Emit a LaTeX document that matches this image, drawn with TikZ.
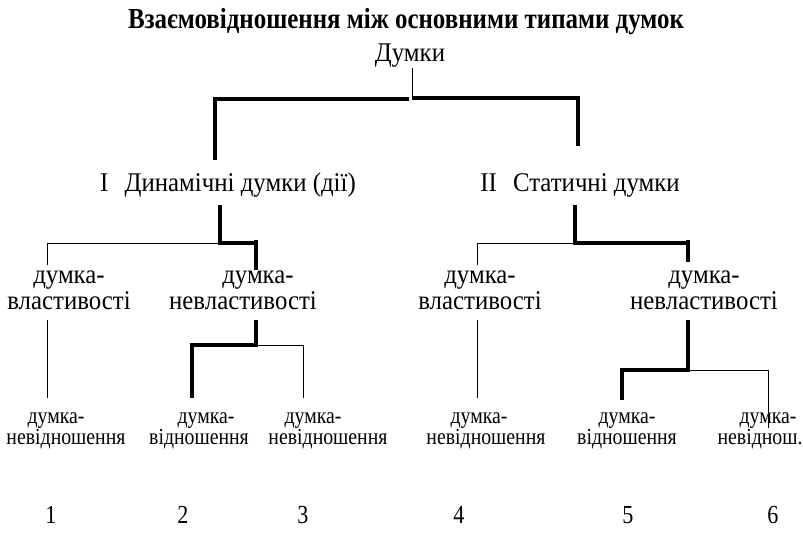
\documentclass[tikz,border=0pt]{standalone}
\usepackage{fontspec}
\setmainfont{Liberation Serif}
\newfontfamily\ttlfont[FakeStretch=0.86]{Liberation Serif}
\newfontfamily\lvlfont[FakeStretch=0.92]{Liberation Serif}
\newfontfamily\leaffont[FakeStretch=0.86]{Liberation Serif}
\newfontfamily\numfont[FakeStretch=0.85]{Liberation Serif}
\begin{document}
\begin{tikzpicture}[x=1pt,y=-1pt,
  thk/.style={line width=4pt, line join=miter},
  thn/.style={line width=1pt},
  ttl/.style={inner sep=0pt, font=\ttlfont\fontsize{29}{30}\selectfont\bfseries},
  lvl/.style={inner sep=0pt, font=\lvlfont\fontsize{27}{26}\selectfont, align=center},
  leaf/.style={inner sep=0pt, font=\leaffont\fontsize{23}{20}\selectfont, align=center},
  num/.style={inner sep=0pt, font=\numfont\fontsize{26}{26}\selectfont}]
\useasboundingbox (0,0) rectangle (803,552);
% texts
\node[ttl] (title) at (406,22) {Взаємовідношення між основними типами думок};
\node[lvl] (root) at (410,56) {Думки};
\node[lvl] (dyn) at (228,185) {I\hspace{0.6em}Динамічні думки (дії)};
\node[lvl] (stat) at (580,185) {II\hspace{0.6em}Статичні думки};
\node[lvl] (a1) at (69,290) {думка-\\властивості};
\node[lvl] (a2) at (243,290) {\hspace*{30pt}думка-\\невластивості};
\node[lvl] (b1) at (480,290) {думка-\\властивості};
\node[lvl] (b2) at (704,290) {думка-\\невластивості};
\node[leaf] (l1) at (66,431) {думка-\hspace*{20pt}\\невідношення};
\node[leaf] (l2) at (199,431) {\hspace*{14pt}думка-\\відношення};
\node[leaf] (l3) at (328,431) {думка-\hspace*{30pt}\\невідношення};
\node[leaf] (l4) at (486,431) {думка-\hspace*{14pt}\\невідношення};
\node[leaf] (l5) at (627,431) {думка-\\відношення};
\node[leaf] (l6) at (760,431) {\hspace*{16pt}думка-\\невіднош.};
\node[num] (n1) at (51,515) {1};
\node[num] (n2) at (183,515) {2};
\node[num] (n3) at (303,515) {3};
\node[num] (n4) at (459,515) {4};
\node[num] (n5) at (628,515) {5};
\node[num] (n6) at (773,515) {6};
% junction coordinates
\coordinate (r0) at (412,68);
\coordinate (r1) at (412,97.5);
\coordinate (rl) at (409,99);
\coordinate (rL) at (215,99);
\coordinate (rLd) at (215,160);
\coordinate (rR) at (578,97.5);
\coordinate (rRd) at (578,146);
% top
\draw[thn] (r0) -- (r1);
\draw[thk] (rl) -- (rL) -- (rLd);
\draw[thk] (r1) -- (rR) -- (rRd);
% dynamic subtree
\coordinate (d0) at (220,205);
\coordinate (d1) at (220,243);
\coordinate (dL) at (47,243);
\coordinate (dLd) at (47,265);
\coordinate (dR) at (256,243);
\coordinate (dRu) at (256,240);
\coordinate (dRd) at (256,270);
\draw[thn] (d1) -- (dL) -- (dLd);
\draw[thk] (d0) -- (d1) -- (dR);
\draw[thk] (dRu) -- (dRd);
% under a1, a2
\coordinate (e0) at (47,320);
\coordinate (e1) at (47,398);
\draw[thn] (e0) -- (e1);
\coordinate (f0) at (256,320);
\coordinate (f1) at (256,345);
\coordinate (fL) at (192,345);
\coordinate (fLd) at (192,398);
\coordinate (fR) at (303,345);
\coordinate (fRd) at (303,398);
\draw[thn] (f1) -- (fR) -- (fRd);
\draw[thk] (f0) -- (f1) -- (fL) -- (fLd);
% static subtree
\coordinate (s0) at (575,205);
\coordinate (s1) at (575,243);
\coordinate (sL) at (477,243);
\coordinate (sLd) at (477,265);
\coordinate (sR) at (688,243);
\coordinate (sRu) at (688,240);
\coordinate (sRd) at (688,262);
\draw[thn] (s1) -- (sL) -- (sLd);
\draw[thk] (s0) -- (s1) -- (sR);
\draw[thk] (sRu) -- (sRd);
% under b1, b2
\coordinate (g0) at (477,320);
\coordinate (g1) at (477,398);
\draw[thn] (g0) -- (g1);
\coordinate (h0) at (688,320);
\coordinate (h1) at (688,370);
\coordinate (hL) at (622,370);
\coordinate (hLd) at (622,400);
\coordinate (hR) at (768,370);
\coordinate (hRd) at (768,428);
\draw[thn] (h1) -- (hR) -- (hRd);
\draw[thk] (h0) -- (h1) -- (hL) -- (hLd);
\end{tikzpicture}
\end{document}
